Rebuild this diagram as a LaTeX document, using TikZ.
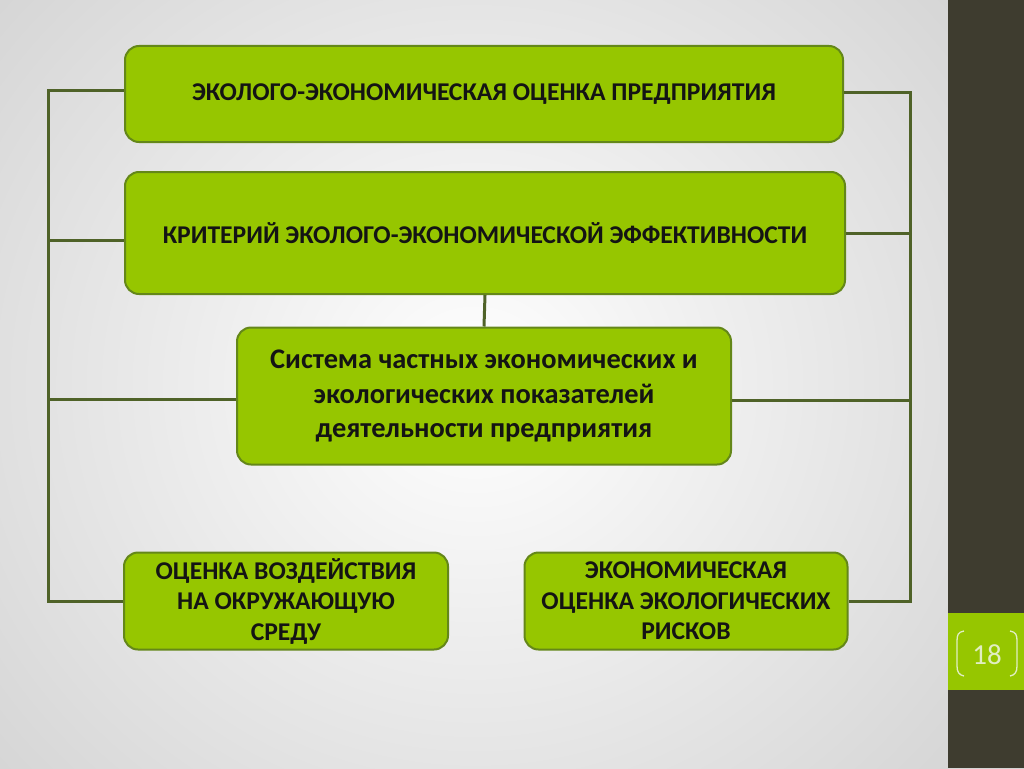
\documentclass[tikz,border=0pt]{standalone}
\usepackage{fontspec}
\setmainfont{Carlito}
\definecolor{boxfill}{RGB}{150,198,0}
\definecolor{boxedge}{RGB}{100,135,25}
\definecolor{linecol}{RGB}{79,98,40}
\definecolor{strip}{RGB}{62,60,47}
\definecolor{txt}{RGB}{20,20,20}
\definecolor{pagefg}{RGB}{225,238,195}
\begin{document}
\begin{tikzpicture}[x=1pt,y=-1pt,
  box/.style={draw=boxedge,line width=2pt,fill=boxfill,rounded corners=14pt,
    text=txt,font=\bfseries\fontsize{25.6}{30.5}\selectfont,align=center,inner sep=0pt},
  bus/.style={draw=linecol,line width=3pt}]
\useasboundingbox (0,0) rectangle (1024,768);
\shade[inner color=white,outer color=black!22] (-380,-420) rectangle (1330,1190);
\fill[strip] (948,0) rectangle (1024,768);
\fill[boxfill] (948,613) rectangle (1024,690);
\draw[pagefg,line width=1.3pt] (964,631) .. controls (958,632) and (957,635) .. (957,641) -- (957,666) .. controls (957,672) and (959,675) .. (964,676);
\draw[pagefg,line width=1.3pt] (1010,631) .. controls (1016,632) and (1017,635) .. (1017,641) -- (1017,666) .. controls (1017,672) and (1015,675) .. (1010,676);
\node[text=pagefg,font=\fontsize{29}{30}\selectfont] (pg) at (987,655) {18};

\coordinate (LT) at (48,90);
\coordinate (LB) at (48,601);
\coordinate (RT) at (910,92);
\coordinate (RB) at (910,601);
\coordinate (L2) at (48,240);
\coordinate (L3) at (48,399);
\coordinate (R2) at (910,233);
\coordinate (R3) at (910,400);

\node[box,minimum width=718pt,minimum height=96pt] (b1) at (484,94) {ЭКОЛОГО-ЭКОНОМИЧЕСКАЯ ОЦЕНКА ПРЕДПРИЯТИЯ};
\node[box,minimum width=720pt,minimum height=122pt] (b2) at (485,233) {КРИТЕРИЙ ЭКОЛОГО-ЭКОНОМИЧЕСКОЙ ЭФФЕКТИВНОСТИ};
\node[box,minimum width=494pt,minimum height=137pt,font=\bfseries\fontsize{28.4}{34.5}\selectfont] (b3) at (484,396) {Система частных экономических и\\экологических показателей\\деятельности предприятия};
\node[box,minimum width=324pt,minimum height=97pt] (b4) at (286,601) {ОЦЕНКА ВОЗДЕЙСТВИЯ\\НА ОКРУЖАЮЩУЮ\\СРЕДУ};
\node[box,minimum width=323pt,minimum height=97pt] (b5) at (686,601) {ЭКОНОМИЧЕСКАЯ\\ОЦЕНКА ЭКОЛОГИЧЕСКИХ\\РИСКОВ};

\draw[bus] (b1.west |- LT) -- (LT) -- (LB) -- (b4.west |- LB);
\draw[bus] (L2) -- (b2.west |- L2);
\draw[bus] (L3) -- (b3.west |- L3);
\draw[bus] (b1.east |- RT) -- (RT) -- (RB) -- (b5.east |- RB);
\draw[bus] (R2) -- (b2.east |- R2);
\draw[bus] (R3) -- (b3.east |- R3);
\draw[bus] (b2.south) -- (b3.north);
\end{tikzpicture}
\end{document}
